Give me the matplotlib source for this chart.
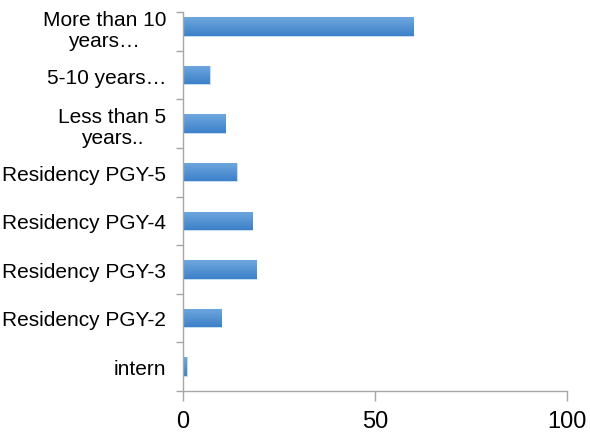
import numpy as np
import matplotlib.pyplot as plt
from matplotlib.colors import LinearSegmentedColormap

# data, bottom to top
categories = ["intern", "Residency PGY-2", "Residency PGY-3", "Residency PGY-4",
              "Residency PGY-5", "Less than 5\nyears..", "5-10 years\u2026",
              "More than 10\nyears\u2026"]
values = [1, 10, 19, 18, 14, 11, 7, 60]
x_ticks = [0, 50, 100]

plt.rcParams['font.family'] = ['Liberation Sans', 'DejaVu Sans']

fig = plt.figure(figsize=(5.9, 4.35), dpi=100)
ax = fig.add_axes([0.3097, 0.0995, 0.6519, 0.8929])

y = np.arange(len(categories))
bars = ax.barh(y, values, height=0.38, color='#4d8fd4', edgecolor='#c9ddf2', linewidth=0.8, zorder=2)

# excel-like vertical gradient on each bar (light top, dark bottom)
cmap = LinearSegmentedColormap.from_list('blu', ['#3c81c8', '#6fa7df'])
grad = np.linspace(0, 1, 64).reshape(-1, 1)
for b in bars:
    x0, y0 = b.get_x(), b.get_y()
    w, h = b.get_width(), b.get_height()
    im = ax.imshow(grad, cmap=cmap, aspect='auto', origin='lower',
                   extent=[x0, x0 + w, y0, y0 + h], zorder=2.5)
    im.set_clip_path(b)

n = len(categories)
top = n - 0.5 - 0.19   # the axis line stops a bit short of the top in the original
ax.set_xlim(0, 100)
ax.set_ylim(-0.5, n - 0.5)
ax.set_xticks(x_ticks)
ax.set_xticklabels([str(t) for t in x_ticks], fontsize=17)
ax.set_yticks(y)
ax.set_yticklabels(categories, fontsize=15, ha='right', multialignment='center', linespacing=1.15)
ax.set_yticks(list(np.arange(n) - 0.5) + [top], minor=True)
ax.spines['left'].set_bounds(-0.5, top)

ax.tick_params(axis='y', which='major', length=0, pad=12)
ax.tick_params(axis='y', which='minor', length=5, color='#a6a6a6', width=1)
ax.tick_params(axis='x', length=7, color='#a6a6a6', width=1, pad=7)

for s in ['top', 'right']:
    ax.spines[s].set_visible(False)
for s in ['left', 'bottom']:
    ax.spines[s].set_color('#a6a6a6')
    ax.spines[s].set_linewidth(1)

fig.savefig('out.png', dpi=100)
